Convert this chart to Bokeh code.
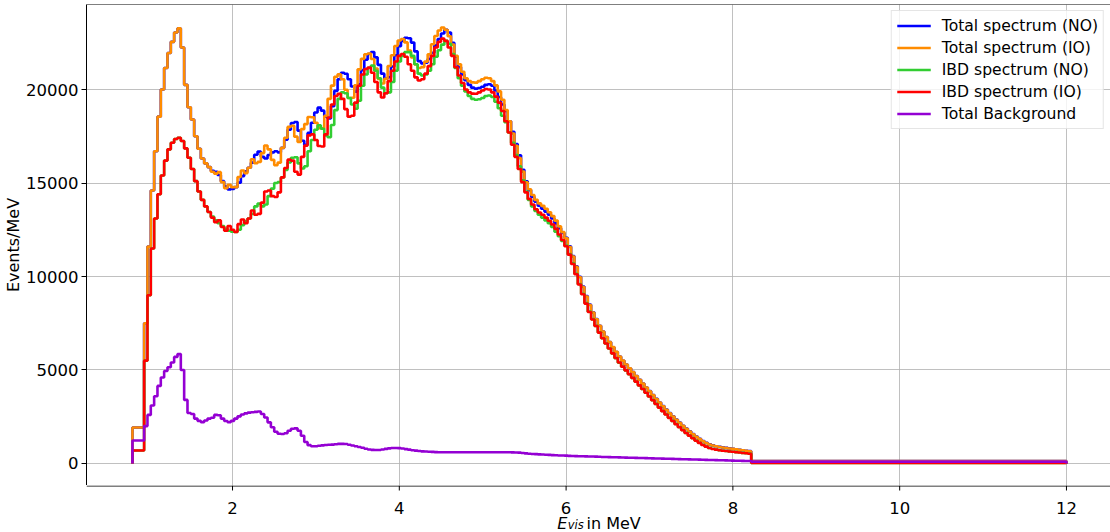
import numpy as np
from bokeh.plotting import figure
from bokeh.layouts import column
from bokeh.models import Range1d, FixedTicker, Span
from bokeh.core.properties import value
from bokeh.embed import file_html
from bokeh.resources import INLINE

# ---------------- data ----------------
# histogram binning: one wide bin 0.8-0.94 MeV, 40 keV bins up to 8.22 MeV, one wide bin to 12 MeV
first_edge = 0.8
fine_start = 0.94
fine_width = 0.04
n_fine = 182
last_edge = 12.0

ibd_no = [695,
    5500, 9000, 11500, 13100, 14400, 15400, 16200, 16800, 17150, 17350,
    17420, 17250, 16850, 16350, 15750, 15100, 14550, 14100, 13750, 13450,
    13200, 13000, 12850, 12700, 12550, 12450, 12400, 12380, 12500, 12750,
    12950, 13100, 13350, 13750, 13900, 13750, 13850, 14300, 14700, 15000,
    15050, 15300, 15700, 16100, 16350, 16380, 16050, 15780, 15900, 16700,
    17300, 17850, 18080, 17900, 17550, 17450, 18100, 18900, 19500, 19850,
    19800, 19550, 19200, 18970, 19400, 20200, 20800, 21150, 21280, 21000,
    20600, 20100, 19800, 19850, 20400, 21000, 21500, 21800, 22000, 22000,
    21800, 21350, 20850, 20750, 20800, 21000, 21350, 21750, 22100, 22400,
    22600, 22450, 21900, 21150, 20600, 20200, 19900, 19650, 19500, 19450,
    19480, 19550, 19650, 19680, 19600, 19350, 19000, 18600, 18250, 17700,
    17150, 16500, 15900, 15150, 14550, 14100, 13750, 13500, 13300, 13150,
    13000, 12850, 12650, 12400, 12150, 11900, 11650, 11200, 10700, 10150,
    9600, 9080, 8580, 8120, 7720, 7360, 7010, 6700, 6420, 6150,
    5880, 5630, 5390, 5170, 4970, 4770, 4580, 4380, 4180, 3980,
    3780, 3590, 3390, 3190, 3000, 2810, 2630, 2450, 2280, 2110,
    1950, 1790, 1640, 1500, 1360, 1230, 1110, 1000, 910, 835,
    785, 745, 715, 690, 670, 650, 630, 610, 590, 570,
    550, 530,
    30]

ibd_io = [695,
    5500, 9000, 11500, 13100, 14400, 15400, 16200, 16800, 17150, 17350,
    17420, 17250, 16850, 16350, 15750, 15100, 14550, 14100, 13750, 13450,
    13150, 12900, 13000, 12650, 12450, 12700, 12500, 12380, 12800, 13050,
    12850, 13100, 13530, 13300, 13350, 13950, 14550, 14600, 14300, 14250,
    14500, 15300, 15800, 16250, 16200, 15600, 15450, 16400, 17000, 17550,
    17600, 17300, 16980, 16950, 17600, 18500, 19200, 19650, 19770, 19500,
    18950, 18550, 18600, 19300, 20200, 20800, 21100, 21180, 20900, 20400,
    19850, 19570, 19800, 20450, 21000, 21500, 21800, 21900, 21750, 21350,
    21000, 20650, 20480, 20550, 20850, 21250, 21800, 22250, 22550, 22720,
    22600, 22250, 21800, 21200, 20750, 20350, 20000, 19850, 19780, 19770,
    19850, 19950, 20030, 20000, 19850, 19620, 19300, 18850, 18300, 17700,
    17050, 16400, 15750, 15050, 14500, 14150, 13850, 13600, 13420, 13300,
    13150, 12980, 12780, 12550, 12250, 11950, 11620, 11170, 10670, 10120,
    9570, 9050, 8550, 8100, 7700, 7350, 7000, 6700, 6420, 6150,
    5890, 5640, 5400, 5180, 4980, 4780, 4580, 4380, 4180, 3980,
    3780, 3580, 3380, 3180, 2990, 2800, 2620, 2440, 2270, 2100,
    1940, 1780, 1630, 1490, 1350, 1220, 1100, 990, 900, 825,
    775, 740, 710, 685, 665, 645, 625, 605, 585, 565,
    545, 525,
    30]

background = [1230,
    2000, 2600, 3100, 3600, 4150, 4600, 4950, 5150, 5400, 5700,
    5850, 5000, 3400, 2700, 2650, 2400, 2280, 2210, 2300, 2400,
    2450, 2600, 2580, 2400, 2270, 2210, 2280, 2400, 2520, 2620,
    2680, 2720, 2740, 2760, 2780, 2650, 2460, 2200, 1940, 1700,
    1590, 1580, 1620, 1750, 1860, 1880, 1750, 1480, 1150, 980,
    920, 920, 950, 970, 990, 1000, 1010, 1030, 1050, 1050,
    1040, 1000, 960, 920, 880, 840, 790, 750, 730, 720,
    720, 750, 780, 810, 830, 830, 820, 800, 770, 740,
    710, 690, 670, 650, 640, 630, 620, 610, 605, 600,
    600, 600, 600, 600, 600, 600, 600, 600, 600, 600,
    600, 600, 600, 600, 600, 600, 600, 600, 600, 600,
    595, 590, 580, 560, 540, 520, 510, 500, 490, 480,
    470, 460, 450, 440, 430, 425, 420, 410, 400, 395,
    390, 385, 380, 375, 370, 365, 360, 350, 345, 340,
    335, 330, 325, 320, 315, 310, 305, 300, 295, 290,
    285, 280, 275, 270, 265, 260, 255, 250, 245, 240,
    235, 230, 225, 220, 215, 210, 205, 200, 195, 190,
    185, 180, 175, 170, 165, 160, 155, 150, 145, 140,
    135, 130,
    100]

x_ticks = [2, 4, 6, 8, 10, 12]
x_tick_labels = ["2", "4", "6", "8", "10", "12"]
y_ticks = [0, 5000, 10000, 15000, 20000]

series_names = ["Total spectrum (NO)", "Total spectrum (IO)", "IBD spectrum (NO)",
                "IBD spectrum (IO)", "Total Background"]
series_colors = ["#0000ff", "#ff8c00", "#32cd32", "#ff0000", "#9400d3"]

x_label_parts = ["E", "vis", "in MeV"]

# ---------------- build ----------------
edges = np.concatenate([[first_edge],
                        np.round(fine_start + fine_width * np.arange(n_fine + 1), 4),
                        [last_edge]])
ibd_no_a = np.array(ibd_no, dtype=float)
ibd_io_a = np.array(ibd_io, dtype=float)
bkg_a = np.array(background, dtype=float)
total_no = ibd_no_a + bkg_a
total_io = ibd_io_a + bkg_a
series_vals = [total_no, total_io, ibd_no_a, ibd_io_a, bkg_a]


def step_xy(vals):
    x = np.repeat(edges, 2)
    y = np.concatenate([[0.0], np.repeat(vals, 2), [0.0]])
    return x, y


FONT = "DejaVu Sans"
W = 1110
LEFT = 86
Y_TOP = 24547
Y_BOT = -1177
xr = Range1d(0.249, 12.528)
p = figure(width=W, height=485, output_backend="svg", toolbar_location=None,
           x_range=xr, y_range=Range1d(Y_BOT, Y_TOP), x_axis_location=None,
           min_border_left=LEFT, min_border_right=0, min_border_top=4, min_border_bottom=0)
p.outline_line_color = None
p.background_fill_color = "white"
p.border_fill_color = "white"

for name, col, vals in zip(series_names, series_colors, series_vals):
    x, y = step_xy(vals)
    p.line(x, y, line_color=col, line_width=2.6, legend_label=name)

# y axis
ya = p.yaxis[0]
ya.axis_line_color = "black"
ya.axis_line_width = 1
ya.major_tick_line_color = "black"
ya.major_tick_out = 5
ya.major_tick_in = 0
ya.minor_tick_line_color = None
ya.major_label_text_font = FONT
ya.major_label_text_color = "black"
ya.major_label_text_font_size = "16.5px"
ya.major_label_standoff = 3
ya.ticker = FixedTicker(ticks=y_ticks)
ya.axis_label = "Events/MeV"
ya.axis_label_text_font = FONT
ya.axis_label_text_font_size = "16px"
ya.axis_label_text_font_style = "normal"
ya.axis_label_text_color = "black"
ya.axis_label_standoff = 0

p.xgrid.ticker = FixedTicker(ticks=x_ticks)
p.grid.grid_line_color = "#b0b0b0"
p.grid.grid_line_width = 1
p.grid.grid_line_alpha = 0.8

# top spine
p.add_layout(Span(location=Y_TOP, dimension="width", line_color="black", line_width=1))

# legend
lg = p.legend[0]
lg.location = "top_right"
lg.margin = 6
lg.padding = 5
lg.spacing = 3
lg.label_height = 19
lg.glyph_height = 19
lg.glyph_width = 34
lg.label_standoff = 11
lg.label_text_font = FONT
lg.label_text_font_size = "15.6px"
lg.label_text_color = "black"
lg.border_line_color = "#cccccc"
lg.border_line_width = 1
lg.background_fill_color = "white"
lg.background_fill_alpha = 0.8

# strip below the plot: bottom spine, x ticks, tick labels and the x-axis title, sharing the x range
lab_h = 47
q = figure(width=W, height=lab_h, output_backend="svg", toolbar_location=None,
           x_range=xr, y_range=Range1d(0, lab_h),
           x_axis_location=None, y_axis_location=None,
           min_border_left=LEFT, min_border_right=0, min_border_top=0, min_border_bottom=0)
q.grid.visible = False
q.outline_line_color = None
q.background_fill_color = "white"
q.border_fill_color = "white"
q.add_layout(Span(location=lab_h - 0.5, dimension="width", line_color="black", line_width=1))
q.segment(x0=x_ticks, y0=[lab_h] * len(x_ticks), x1=x_ticks, y1=[lab_h - 5] * len(x_ticks),
          line_color="black", line_width=1)
q.text(x=x_ticks, y=[24.5] * len(x_ticks), text=x_tick_labels, text_font=value(FONT),
       text_font_size="16.5px", text_color="black", text_baseline="alphabetic", text_align="center")
q.text(x=[5.895], y=[9], text=[x_label_parts[0]], text_font=value(FONT), text_font_size="16px",
       text_font_style="italic", text_color="black", text_baseline="alphabetic", text_align="left")
q.text(x=[6.02], y=[7.5], text=[x_label_parts[1]], text_font=value(FONT), text_font_size="11.5px",
       text_font_style="italic", text_color="black", text_baseline="alphabetic", text_align="left")
q.text(x=[6.245], y=[9], text=[x_label_parts[2]], text_font=value(FONT), text_font_size="16px",
       text_color="black", text_baseline="alphabetic", text_align="left")

layout = column(p, q, spacing=0)
open("out.html", "w").write(file_html(layout, INLINE))
